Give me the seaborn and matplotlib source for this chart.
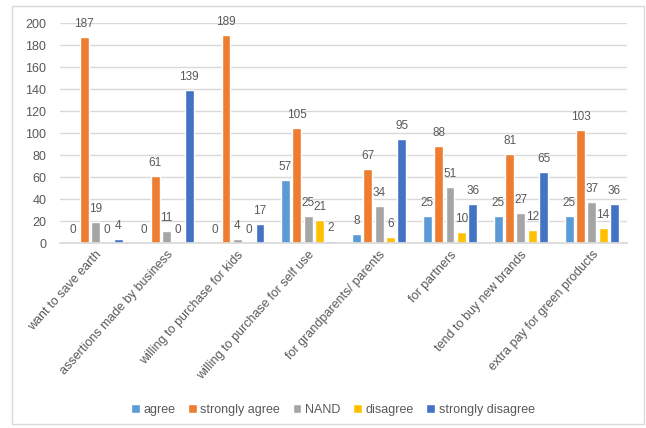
import pandas as pd
import seaborn as sns
import matplotlib.pyplot as plt
from matplotlib.patches import Rectangle

categories = ["want to save earth", "assertions made by business",
              "willing to purchase for kids", "willing to purchase for self use",
              "for grandparents/ parents", "for partners",
              "tend to buy new brands", "extra pay for green products"]
agree = [0, 0, 0, 57, 8, 25, 25, 25]
strongly_agree = [187, 61, 189, 105, 67, 88, 81, 103]
nand = [19, 11, 4, 25, 34, 51, 27, 37]
disagree = [0, 0, 0, 21, 6, 10, 12, 14]
strongly_disagree = [4, 139, 17, 2, 95, 36, 65, 36]

series = {"agree": agree, "strongly agree": strongly_agree, "NAND": nand,
          "disagree": disagree, "strongly disagree": strongly_disagree}
colors = ["#5B9BD5", "#ED7D31", "#A5A5A5", "#FFC000", "#4472C4"]

rows = []
for name, vals in series.items():
    for cat, v in zip(categories, vals):
        rows.append({"category": cat, "response": name, "count": v})
data = pd.DataFrame(rows)

sns.set_theme(style="white")
plt.rcParams['font.family'] = ['Liberation Sans', 'DejaVu Sans']

fig = plt.figure(figsize=(6.46, 4.28), dpi=100)
ax = fig.add_axes([0.093, 0.432, 0.878, 0.514])

sns.barplot(data=data, x="category", y="count", hue="response",
            palette=colors, saturation=1, width=0.8, gap=0.22, ax=ax, legend=True)

text_color = "#595959"
for cont in ax.containers:
    ax.bar_label(cont, padding=5, fontsize=8.5, color=text_color)

ax.set_ylim(0, 200)
ax.set_yticks(range(0, 201, 20))
ax.yaxis.grid(True, color="#D9D9D9", linewidth=1)
ax.set_axisbelow(True)
for s in ["top", "right", "left"]:
    ax.spines[s].set_visible(False)
ax.spines["bottom"].set_color("#D9D9D9")
ax.tick_params(axis="y", length=0, labelsize=9, labelcolor=text_color, pad=10)
ax.tick_params(axis="x", length=0, labelsize=9, labelcolor=text_color, pad=4)
ax.set_xticks(range(len(categories)))
ax.set_xticklabels(categories, rotation=48, ha="right", rotation_mode="anchor")
ax.set_xlabel("")
ax.set_ylabel("")

handles, labels = ax.get_legend_handles_labels()
ax.legend(handles, labels, loc="center", bbox_to_anchor=(0.515, 0.042),
          bbox_transform=fig.transFigure, ncol=5, frameon=False, fontsize=9,
          handlelength=0.7, handleheight=0.7, handletextpad=0.3, columnspacing=1.0,
          labelcolor=text_color)

fig.patches.append(Rectangle((12 / 646, 4 / 428), 632 / 646, 418 / 428,
                             transform=fig.transFigure, fill=False,
                             edgecolor="#D9D9D9", linewidth=1))

plt.savefig("out.png", dpi=100)
